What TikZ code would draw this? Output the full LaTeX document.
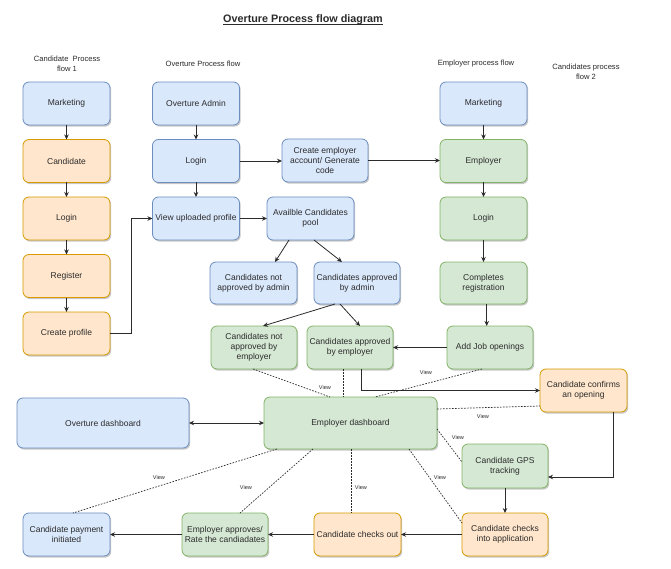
\documentclass[tikz,border=0pt]{standalone}
\usepackage{fontspec}
\setmainfont{Liberation Sans}
\usetikzlibrary{arrows.meta,shadows,calc}
\definecolor{bfill}{HTML}{DAE8FC}\definecolor{bdraw}{HTML}{6C8EBF}
\definecolor{ofill}{HTML}{FFE6CC}\definecolor{odraw}{HTML}{D79B00}
\definecolor{gfill}{HTML}{D5E8D4}\definecolor{gdraw}{HTML}{82B366}
\definecolor{txt}{HTML}{2B2B2B}
\tikzset{
  box/.style={rectangle, rounded corners=6pt, line width=0.8pt, align=center,
    minimum width=87pt, minimum height=43pt, inner sep=1pt, outer sep=0pt,
    text=txt, font=\fontsize{8.5}{10.3}\selectfont,
    drop shadow={shadow xshift=1.2pt, shadow yshift=-1.6pt, opacity=0.22, fill=black}},
  bluebox/.style={box, fill=bfill, draw=bdraw},
  orangebox/.style={box, fill=ofill, draw=odraw},
  greenbox/.style={box, fill=gfill, draw=gdraw},
  conn/.style={draw=txt, line width=0.8pt, -{Stealth[length=5pt,width=4.5pt]}},
  dconn/.style={draw=txt, line width=0.7pt, dash pattern=on 1.6pt off 1.4pt},
  viewlbl/.style={font=\fontsize{5.6}{6}\selectfont, text=txt, inner sep=0pt},
  hdr/.style={font=\fontsize{7.6}{10}\selectfont, text=txt, align=center, inner sep=0pt},
}
\begin{document}
\begin{tikzpicture}[x=1pt,y=-1pt]
\useasboundingbox[fill=white] (0,0) rectangle (671,569);
% title and headers
\node[font=\bfseries\fontsize{10.8}{12}\selectfont, text=txt, inner sep=0pt] (title) at (303,20) {Overture Process flow diagram};
\draw[txt, line width=0.7pt] ($(title.base west)+(0,1.6)$) -- ($(title.base east)+(0,1.6)$);
\node[hdr] (h1) at (67,64) {Candidate\ \ Process\\flow 1};
\node[hdr] (h2) at (203,64) {Overture Process flow};
\node[hdr] (h3) at (476,64) {Employer process flow};
\node[hdr] (h4) at (586,72) {Candidates process\\flow 2};
% candidate flow 1
\node[bluebox] (cm) at (66.5,103.5) {Marketing};
\node[orangebox] (cc) at (66.5,161) {Candidate};
\node[orangebox] (cl) at (66.5,218.5) {Login};
\node[orangebox] (cr) at (66.5,276) {Register};
\node[orangebox] (cp) at (66.5,333.5) {Create profile};
% overture flow
\node[bluebox] (oa) at (196,103.5) {Overture Admin};
\node[bluebox] (ol) at (196,161) {Login};
\node[bluebox] (ov) at (196,218.5) {View uploaded profile};
\node[bluebox, minimum width=86pt] (ce) at (325,160.5) {Create employer\\account/ Generate\\code};
\node[bluebox] (ap) at (310.5,218.5) {Availble Candidates\\pool};
\node[bluebox, minimum height=42pt] (na) at (253.5,283) {Candidates not\\approved by admin};
\node[bluebox, minimum width=86pt, minimum height=42pt] (aa) at (357,283) {Candidates approved\\by admin};
% employer flow
\node[bluebox] (em) at (483.5,103.5) {Marketing};
\node[greenbox] (ee) at (483.5,161) {Employer};
\node[greenbox] (el) at (483.5,218.5) {Login};
\node[greenbox, minimum height=42pt] (er) at (483.5,283) {Completes\\registration};
\node[greenbox, minimum width=86pt] (ne) at (254,347.5) {Candidates not\\approved by\\employer};
\node[greenbox, minimum width=86pt] (ae) at (350,347.5) {Candidates approved\\by employer};
\node[greenbox, minimum width=86pt] (aj) at (490,347.5) {Add Job openings};
\node[orangebox] (cf) at (583.5,390.5) {Candidate confirms\\an opening};
% dashboards
\node[bluebox, minimum width=172pt, minimum height=50pt] (od) at (103,423) {Overture dashboard};
\node[greenbox, minimum width=173pt, minimum height=52pt] (ed) at (350.5,423) {Employer dashboard};
% bottom row
\node[greenbox, minimum width=86pt, minimum height=44pt] (gps) at (505,466) {Candidate GPS\\tracking};
\node[orangebox, minimum width=86pt] (ci) at (505,534.5) {Candidate checks\\into application};
\node[orangebox] (co) at (357.5,534.5) {Candidate checks out};
\node[greenbox, minimum width=86pt] (ea) at (225,534.5) {Employer approves/\\Rate the candiadates};
\node[bluebox] (pay) at (66.5,534.5) {Candidate payment\\initiated};
% solid connectors
\draw[conn] (cm) -- (cc);
\draw[conn] (cc) -- (cl);
\draw[conn] (cl) -- (cr);
\draw[conn] (cr) -- (cp);
\draw[conn] (oa) -- (ol);
\draw[conn] (ol) -- (ov);
\draw[conn] (ol.east) -- (ol.east -| ce.west);
\draw[conn] (ce.east) -- (ce.east -| ee.west);
\draw[conn] (ov) -- (ap);
\draw[conn] (cp.east) -- ++(21.5,0) |- (ov.west);
\draw[conn] ($(ap.south)+(-21.5,0)$) -- ($(na.north)+(21.5,0)$);
\draw[conn] ($(ap.south)+(3.5,0)$) -- ($(aa.north)+(-15,0)$);
\draw[conn] (em) -- (ee);
\draw[conn] (ee) -- (el);
\draw[conn] (el) -- (er);
\draw[conn] ($(er.south)+(3.2,0)$) -- ($(aj.north)+(-3.3,0)$);
\draw[conn] ($(aa.south)+(-22,0)$) -- ($(ne.north)+(9,0)$);
\draw[conn] ($(aa.south)+(-17,0)$) -- ($(ae.north)+(10,0)$);
\draw[conn] (aj.west) -- (aj.west -| ae.east);
\draw[conn] ($(ae.south)+(11,0)$) |- (cf.west);
\draw[conn] ($(cf.south)+(29.5,0)$) |- ($(gps.east)+(0,11)$);
\draw[conn] (gps) -- (ci);
\draw[conn] (ci) -- (co);
\draw[conn] (co) -- (ea);
\draw[conn] (ea) -- (pay);
\draw[conn, {Stealth[length=5pt,width=4.5pt]}-{Stealth[length=5pt,width=4.5pt]}] (od) -- (ed);
% dashed view connectors
\draw[dconn] ($(ne.south)+(-1,0)$) -- ($(ed.north west)+(66,0)$);
\draw[dconn] ($(ae.south)+(-7,0)$) -- ($(ed.north west)+(79,0)$);
\draw[dconn] ($(aj.south)+(-8,0)$) -- ($(ed.north west)+(111,0)$);
\draw[dconn] ($(ed.east)+(0,-14)$) -- ($(cf.west)+(0,15.5)$);
\draw[dconn] ($(ed.east)+(0,6)$) -- ($(gps.west)+(0,-4)$);
\draw[dconn] ($(ed.south west)+(145,0)$) -- ($(ci.west)+(0,-11.5)$);
\draw[dconn] ($(ed.south west)+(87,0)$) -- ($(co.north)+(-6.5,0)$);
\draw[dconn] ($(ed.south west)+(49,0)$) -- ($(ea.north)+(15,0)$);
\draw[dconn] ($(ed.south west)+(13,0)$) -- ($(pay.north)+(6.5,0)$);
% view labels
\node[viewlbl] (v1) at (325,387) {View};
\node[viewlbl] (v2) at (426,372) {View};
\node[viewlbl] (v3) at (483,416) {View};
\node[viewlbl] (v4) at (458,437) {View};
\node[viewlbl] (v5) at (440,477) {View};
\node[viewlbl] (v6) at (361,487) {View};
\node[viewlbl] (v7) at (246,487) {View};
\node[viewlbl] (v8) at (159,477) {View};
\end{tikzpicture}
\end{document}
